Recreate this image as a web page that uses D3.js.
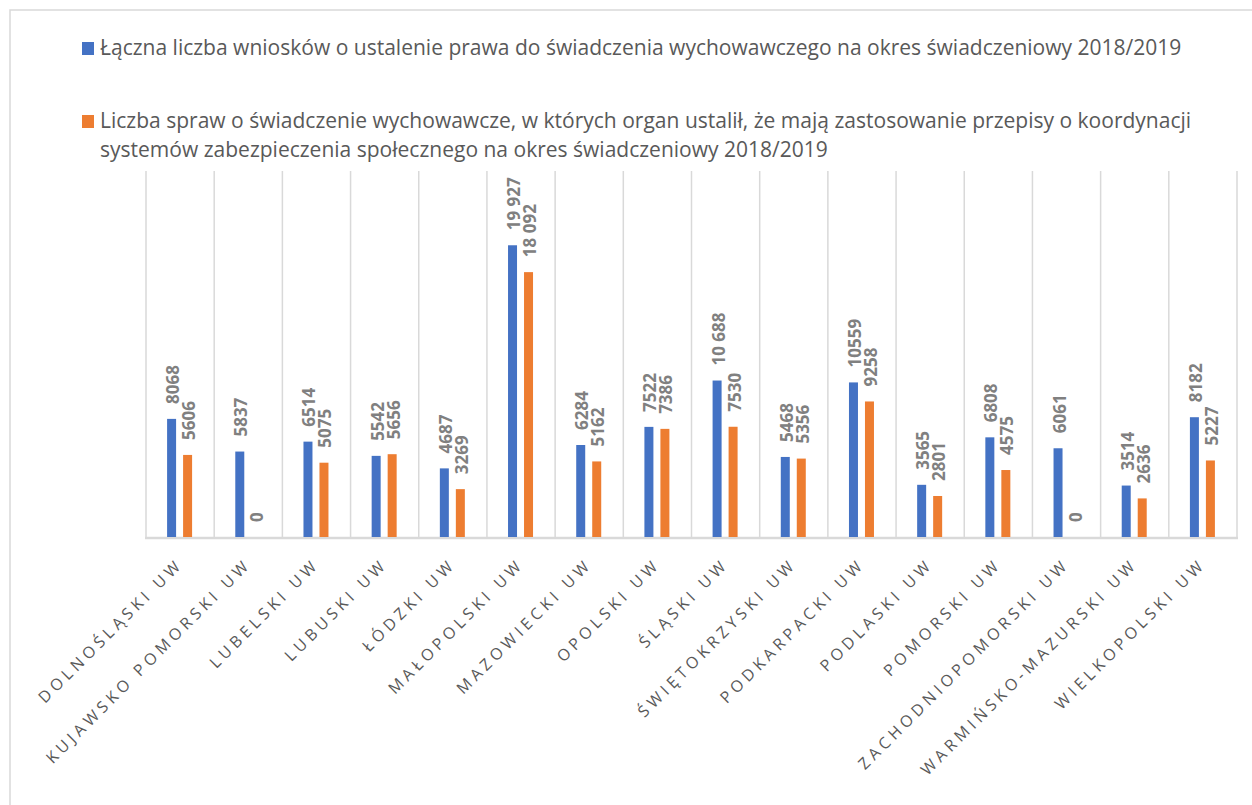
<!DOCTYPE html>
<html><head><meta charset="utf-8">
<script src="https://cdn.jsdelivr.net/npm/d3@7"></script>
<style>body{margin:0;background:#fff} svg{display:block}</style>
</head><body>
<svg id="c" width="1252" height="805"></svg>
<script>
const categories = ["DOLNOŚLĄSKI UW","KUJAWSKO POMORSKI UW","LUBELSKI UW","LUBUSKI UW","ŁÓDZKI UW","MAŁOPOLSKI UW","MAZOWIECKI UW","OPOLSKI UW","ŚLĄSKI UW","ŚWIĘTOKRZYSKI UW","PODKARPACKI UW","PODLASKI UW","POMORSKI UW","ZACHODNIOPOMORSKI UW","WARMIŃSKO-MAZURSKI UW","WIELKOPOLSKI UW"];
const seriesNames = [
  "Łączna liczba wniosków o ustalenie prawa do świadczenia wychowawczego na okres świadczeniowy 2018/2019",
  "Liczba spraw o świadczenie wychowawcze, w których organ ustalił, że mają zastosowanie przepisy o koordynacji systemów zabezpieczenia społecznego na okres świadczeniowy 2018/2019"
];
const legendLines2 = [
  "Liczba spraw o świadczenie wychowawcze, w których organ ustalił, że mają zastosowanie przepisy o koordynacji",
  "systemów zabezpieczenia społecznego na okres świadczeniowy 2018/2019"
];
const totalValues = [8068,5837,6514,5542,4687,19927,6284,7522,10688,5468,10559,3565,6808,6061,3514,8182];
const coordValues = [5606,0,5075,5656,3269,18092,5162,7386,7530,5356,9258,2801,4575,0,2636,5227];
const totalLabels = ["8068","5837","6514","5542","4687","19 927","6284","7522","10 688","5468","10559","3565","6808","6061","3514","8182"];
const coordLabels = ["5606","0","5075","5656","3269","18 092","5162","7386","7530","5356","9258","2801","4575","0","2636","5227"];
const colors = ["#4472C4","#ED7D31"];

const svg = d3.select("#c");
const plot = {left:146, right:1237, top:171, bottom:537};

const x = d3.scaleBand().domain(categories).range([plot.left, plot.right]).padding(0);
const y = d3.scaleLinear().domain([0,25000]).range([plot.bottom, plot.top]);
const bw = x.bandwidth();
const xs = d3.scaleBand().domain([0,1]).range([bw/2-13, bw/2+12]).paddingInner(0.4375).paddingOuter(0);

// outer border
svg.append("path").attr("d","M10,805V10H1252").attr("fill","none").attr("stroke","#d9d9d9").attr("stroke-width",1.5);

// vertical gridlines
const bounds = categories.map(c=>x(c)).concat([plot.right]);
svg.append("g").selectAll("line").data(bounds).join("line")
  .attr("x1",d=>d).attr("x2",d=>d).attr("y1",plot.top).attr("y2",plot.bottom)
  .attr("stroke","#d9d9d9").attr("stroke-width",1.5);

// baseline
svg.append("line").attr("x1",plot.left-1).attr("x2",plot.right+1).attr("y1",plot.bottom+1).attr("y2",plot.bottom+1)
  .attr("stroke","#d9d9d9").attr("stroke-width",2.5);

const series = [
  {vals: totalValues, labels: totalLabels},
  {vals: coordValues, labels: coordLabels}
];

series.forEach((s,si)=>{
  const g = svg.append("g");
  g.selectAll("rect").data(categories).join("rect")
    .attr("x",(c)=>x(c)+xs(si))
    .attr("width",xs.bandwidth())
    .attr("y",(c,i)=>y(s.vals[i]))
    .attr("height",(c,i)=>y(0)-y(s.vals[i]))
    .attr("fill",colors[si]);
  g.selectAll("text").data(categories).join("text")
    .attr("transform",(c,i)=>{
      const cx = x(c)+xs(si)+xs.bandwidth()/2 + 1;
      const cy = y(s.vals[i]) - 15;
      return `translate(${cx},${cy}) rotate(-90)`;
    })
    .attr("text-anchor","start")
    .attr("dominant-baseline","central")
    .attr("font-family","'Open Sans', sans-serif")
    .attr("font-weight",700)
    .attr("font-size",17)
    .attr("fill","#808080")
    .text((c,i)=>s.labels[i]);
});

// x axis labels
svg.append("g").selectAll("text").data(categories).join("text")
  .attr("transform",c=>`translate(${x(c)+bw/2+4},${565}) rotate(-45)`)
  .attr("text-anchor","end")
  .attr("font-family","'Open Sans', sans-serif")
  .attr("font-size",16)
  .attr("letter-spacing","4.2px")
  .attr("fill","#595959")
  .text(c=>c);

// legend
function fitText(sel, target){
  const w = sel.node().getComputedTextLength();
  const fs = parseFloat(sel.attr("font-size"));
  sel.attr("font-size", fs*target/w);
}
const lg = svg.append("g");
lg.append("rect").attr("x",82).attr("y",42).attr("width",12).attr("height",13).attr("fill",colors[0]);
lg.append("rect").attr("x",82).attr("y",115).attr("width",12).attr("height",13).attr("fill",colors[1]);
const t1 = lg.append("text").attr("x",100).attr("y",55).attr("font-family","'Open Sans', sans-serif").attr("font-size",20).attr("fill","#595959").text(seriesNames[0]);
fitText(t1, 1082);
const fsL = parseFloat(t1.attr("font-size"));
lg.append("text").attr("x",100).attr("y",128).attr("font-family","'Open Sans', sans-serif").attr("font-size",fsL).attr("fill","#595959").text(legendLines2[0]);
lg.append("text").attr("x",100).attr("y",157).attr("font-family","'Open Sans', sans-serif").attr("font-size",fsL).attr("fill","#595959").text(legendLines2[1]);
</script>
</body></html>
